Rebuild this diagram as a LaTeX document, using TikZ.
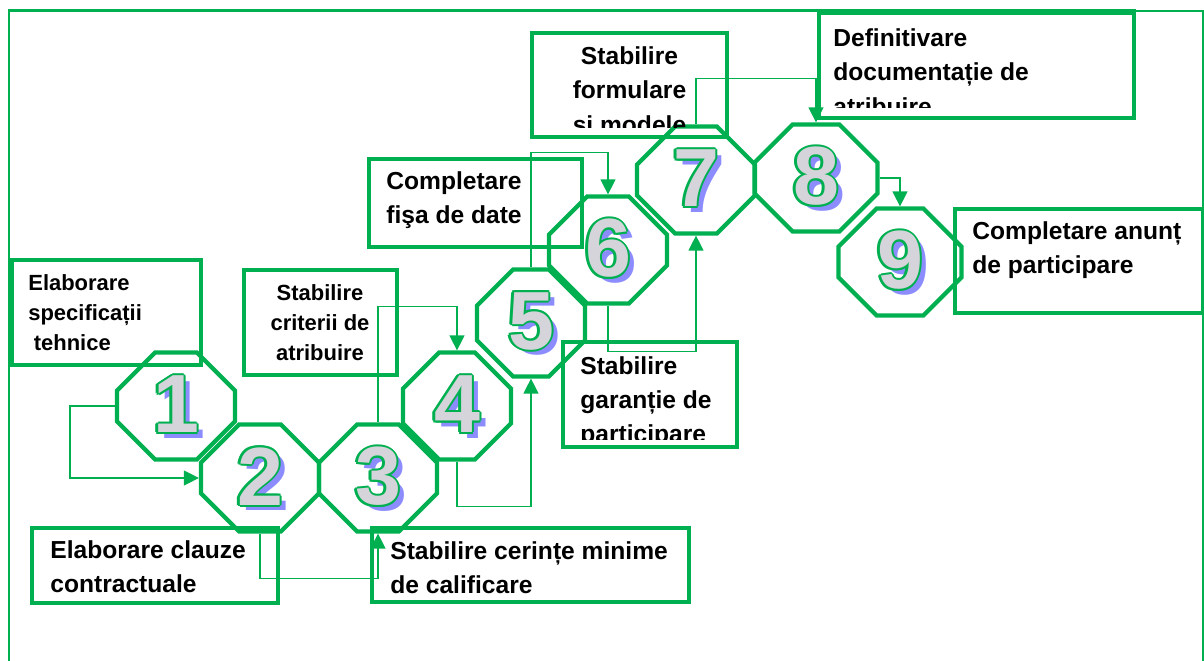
\documentclass[tikz,border=0pt]{standalone}
\usepackage{fontspec}
\setmainfont{Liberation Sans}
\usepackage{tikz}
\usetikzlibrary{shapes.misc,arrows.meta,fit}

\definecolor{stepgreen}{RGB}{0,176,80}
\definecolor{numshadow}{RGB}{140,140,255}
\definecolor{numgray}{RGB}{212,212,218}

% one green copy of a digit, shifted (for the outline)
\newcommand{\digcopy}[3]{\rlap{\kern#1\raise#2\hbox{\color{stepgreen}#3}}}
% big outlined digit with its blue shadow
\newcommand{\stepdigit}[1]{%
  \rlap{\kern3.4pt\lower3pt\hbox{\color{numshadow}#1}}%
  \digcopy{1.2pt}{0pt}{#1}\digcopy{-1.2pt}{0pt}{#1}%
  \digcopy{0pt}{1.2pt}{#1}\digcopy{0pt}{-1.2pt}{#1}%
  \digcopy{.85pt}{.85pt}{#1}\digcopy{-.85pt}{.85pt}{#1}%
  \digcopy{.85pt}{-.85pt}{#1}\digcopy{-.85pt}{-.85pt}{#1}%
  {\color{numgray}#1}}

\begin{document}
\begin{tikzpicture}[x=0.02cm,y=-0.02cm]

% Define octagon, box, text and arrow styles
\tikzstyle{stepoct} = [draw=stepgreen, line width=2.4pt, chamfered rectangle,
    chamfered rectangle xsep=0.64cm, minimum width=2.36cm, minimum height=2.14cm,
    inner sep=0pt, font=\fontsize{47}{47}\selectfont\bfseries]
\tikzstyle{stepbox} = [draw=stepgreen, line width=1.8pt, inner sep=0pt]
\tikzstyle{bigtext} = [inner sep=0pt, align=left,
    font=\fontsize{14}{19.5}\selectfont\bfseries]
\tikzstyle{smalltext} = [bigtext, font=\fontsize{12.5}{17}\selectfont\bfseries]
\tikzstyle{link} = [draw=stepgreen, line width=0.7pt,
    -{Triangle[length=0.3cm,width=0.3cm]}]

\useasboundingbox (0,0) rectangle (1204,661);

% outer frame
\draw[stepgreen, line width=1.7pt] (9,661) -- (9,11) -- (1136,11);
\draw[stepgreen, line width=0.6pt] (1136,11) -- (1203,11) -- (1203,661);

% the nine steps
\node[stepoct] (n1) at (176,406) {\stepdigit{1}};
\node[stepoct] (n2) at (260,478) {\stepdigit{2}};
\node[stepoct] (n3) at (378,478) {\stepdigit{3}};
\node[stepoct, minimum width=2.16cm, chamfered rectangle xsep=0.6cm] (n4) at (457,406) {\stepdigit{4}};
\node[stepoct, minimum width=2.16cm, chamfered rectangle xsep=0.6cm] (n5) at (531,323) {\stepdigit{5}};
\node[stepoct] (n6) at (608,250) {\stepdigit{6}};
\node[stepoct] (n7) at (696,180) {\stepdigit{7}};
\node[stepoct, minimum width=2.46cm] (n8) at (816,178) {\stepdigit{8}};
\node[stepoct, minimum width=2.46cm] (n9) at (900,262) {\stepdigit{9}};

% boxes and their texts
\node[stepbox, fit={(12,260) (201,365)}] (b1) {};
\node[smalltext, anchor=west] (t1) at (28,313) {Elaborare\\specificații\\\hspace*{0.25em}tehnice};

\node[stepbox, fit={(32,528) (278,603)}] (b2) {};
\node[bigtext, anchor=west] (t2) at (50,567) {Elaborare clauze\\contractuale};

\node[stepbox, fit={(372,528) (689,602)}] (b3) {};
\node[bigtext, anchor=west] (t3) at (390,568) {Stabilire cerințe minime\\de calificare};

\node[stepbox, fit={(244,270) (397,375)}] (b4) {};
\node[smalltext, align=center] (t4) at (320,323) {Stabilire\\criterii de\\atribuire};

\node[stepbox, fit={(369,159) (582,247)}] (b5) {};
\node[bigtext, anchor=west] (t5) at (386,200) {Completare\\fişa de date};

\node[stepbox, fit={(563,342) (737,447)}] (b6) {};
\begin{scope}
  \clip (563,342) rectangle (737,440);
  \node[bigtext, anchor=west] (t6) at (580,402) {Stabilire\\garanție de\\participare};
\end{scope}

\node[stepbox, fit={(532,33) (727,137)}] (b7) {};
\begin{scope}
  \clip (532,33) rectangle (727,128);
  \node[bigtext, align=center] (t7) at (629.5,90) {Stabilire\\formulare\\si modele};
\end{scope}

\node[stepbox, fit={(819,13) (1134,118)}] (b8) {};
\begin{scope}
  \clip (819,13) rectangle (1134,108);
  \node[bigtext, anchor=west] (t8) at (833,72) {Definitivare\\documentație de\\atribuire};
\end{scope}

\node[stepbox, fit={(955,209) (1203,313)}] (b9) {};
\node[bigtext, anchor=west] (t9) at (972,250) {Completare anunț\\de participare};

% links between the steps
\draw[link] (n1.west) -- ++(-45,0) |- (n2.west);
\draw[link] (n2.south) -- ++(0,45) -| (n3.south);
\draw[link] (n3.north) -- ++(0,-116) -| (n4.north);
\draw[link] (n4.south) -- ++(0,45) -| (n5.south);
\draw[link] (n5.north) -- ++(0,-115) -| (n6.north);
\draw[link] (n6.south) -- ++(0,46) -| (n7.south);
\draw[link] (n7.north) -- ++(0,-46) -| (n8.north);
\draw[link] (n8.east) -| (n9.north);

\end{tikzpicture}
\end{document}
